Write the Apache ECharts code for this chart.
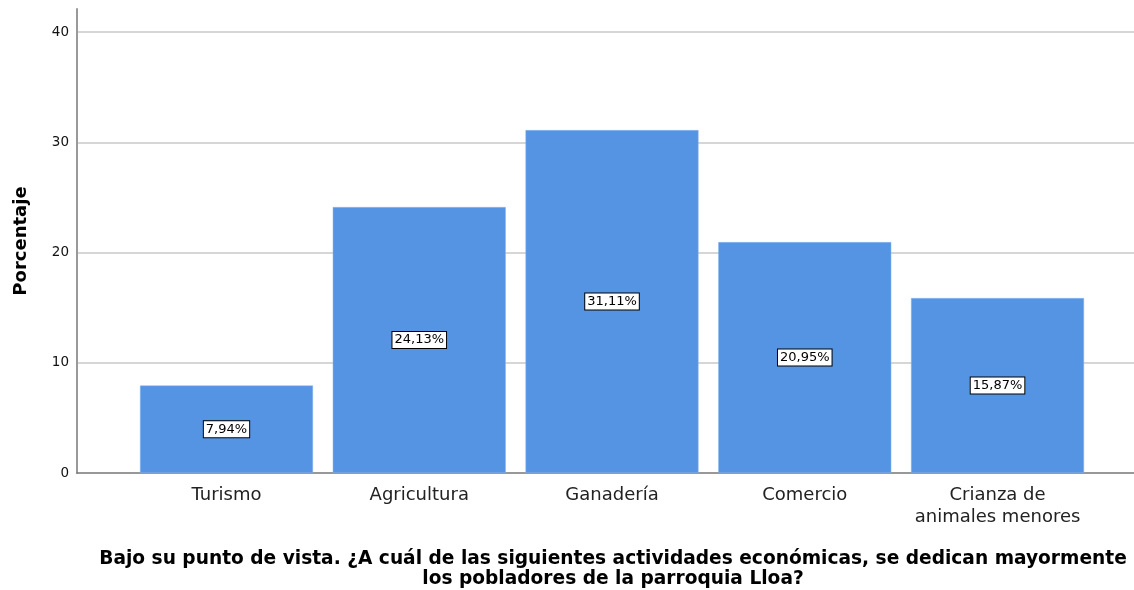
<!DOCTYPE html>
<html><head><meta charset="utf-8">
<script src="https://cdn.jsdelivr.net/npm/echarts@6/dist/echarts.min.js"></script>
<style>html,body{margin:0;padding:0;background:#fff}#c{width:1134px;height:590px}</style>
</head><body><div id="c"></div>
<script>
const categories = ['Turismo', 'Agricultura', 'Ganadería', 'Comercio', 'Crianza de\nanimales menores'];
const values = [7.94, 24.13, 31.11, 20.95, 15.87];
const valueLabels = ['7,94%', '24,13%', '31,11%', '20,95%', '15,87%'];
const yTicks = [0, 10, 20, 30, 40];
const yTitle = 'Porcentaje';
const xTitle = 'Bajo su punto de vista. ¿A cuál de las siguientes actividades económicas, se dedican mayormente\nlos pobladores de la parroquia Lloa?';

const chart = echarts.init(document.getElementById('c'), null, {renderer: 'canvas'});
const font = 'DejaVu Sans, sans-serif';
chart.setOption({
  animation: false,
  title: {
    text: xTitle, left: 608, top: 544, textAlign: 'center',
    textStyle: {fontFamily: font, fontSize: 18.6, fontWeight: 'bold', color: '#000', lineHeight: 20}
  },
  grid: {left: 77, right: 0, top: 9, bottom: 117, containLabel: false, outerBoundsMode: 'none'},
  xAxis: {
    type: 'value', min: -0.7756, max: 4.708,
    axisLine: {show: true, onZero: false, lineStyle: {color: '#777', width: 1.5}},
    axisTick: {show: false},
    splitLine: {show: false},
    axisLabel: {
      customValues: [0, 1, 2, 3, 4],
      formatter: v => categories[Math.round(v)],
      fontFamily: font, fontSize: 18, color: '#222', margin: 11, lineHeight: 22
    }
  },
  yAxis: {
    type: 'value', min: 0, max: 42.1, interval: 10,
    name: yTitle, nameLocation: 'middle', nameGap: 47, nameRotate: 90,
    nameTextStyle: {fontFamily: font, fontSize: 18, fontWeight: 'bold', color: '#000'},
    axisLine: {show: true, onZero: false, lineStyle: {color: '#999', width: 2}},
    axisTick: {show: false},
    axisLabel: {
      fontFamily: font, fontSize: 13.5, color: '#111', margin: 8, showMaxLabel: false,
      formatter: v => (yTicks.indexOf(v) >= 0 ? String(v) : '')
    },
    splitLine: {show: true, showMinLine: false, showMaxLine: false, lineStyle: {color: '#c8c8c8', width: 1.5}}
  },
  series: [{
    type: 'bar',
    barWidth: 173,
    data: values.map((v, i) => [i, v]),
    itemStyle: {color: '#5594e3', borderColor: '#8ab6ee', borderWidth: 0.5},
    label: {
      show: true, position: 'inside',
      formatter: p => valueLabels[p.dataIndex],
      fontFamily: font, fontSize: 13, color: '#000',
      backgroundColor: '#fff', borderColor: '#000', borderWidth: 1,
      padding: [2, 2, 1, 2]
    }
  }]
});
</script></body></html>
